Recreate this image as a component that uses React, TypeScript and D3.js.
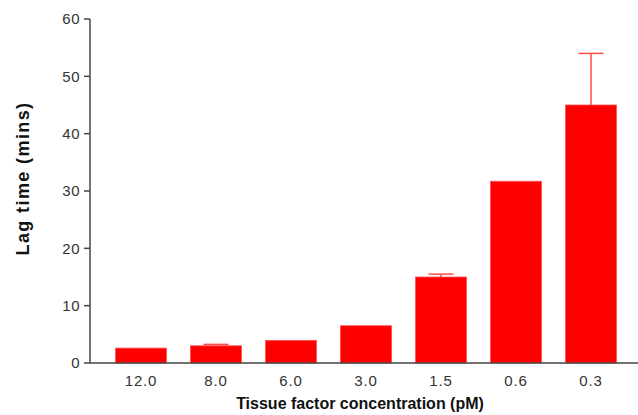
import React from "react";
import * as d3 from "d3";

const categories = ["12.0", "8.0", "6.0", "3.0", "1.5", "0.6", "0.3"];
const lagTimes = [2.6, 3.0, 3.95, 6.5, 15.0, 31.7, 45.0];
const errors = [0, 0.25, 0, 0, 0.5, 0, 9.0];
const yTicks = [0, 10, 20, 30, 40, 50, 60];

const W = 638;
const H = 415;

export default function App() {
  const x = d3.scaleBand<string>().domain(categories).range([103.5, 628.5]).paddingInner(0.32).paddingOuter(0.16);
  const y = d3.scaleLinear().domain([0, 60]).range([363, 19]);
  const font = "Liberation Sans, Arial, sans-serif";
  return (
    <svg width={W} height={H} style={{ position: "absolute", left: 0, top: 0 }} fontFamily={font}>
      <rect width={W} height={H} fill="#fff" />
      {categories.map((c, i) => {
        const x0 = x(c)!;
        const bw = x.bandwidth();
        const cx = x0 + bw / 2;
        return (
          <g key={c}>
            <rect x={x0} y={y(lagTimes[i])} width={bw} height={y(0) - y(lagTimes[i])} fill="#ff0000" stroke="#ff5050" strokeWidth={0.8} />
            {errors[i] > 0 && (
              <g stroke="#ff4a4a" strokeWidth={1.5}>
                <line x1={cx} x2={cx} y1={y(lagTimes[i])} y2={y(lagTimes[i] + errors[i])} />
                <line x1={cx - 12.5} x2={cx + 12.5} y1={y(lagTimes[i] + errors[i])} y2={y(lagTimes[i] + errors[i])} />
              </g>
            )}
            <text x={cx} y={386} textAnchor="middle" fontSize={15} letterSpacing={0.8} fill="#333">{c}</text>
          </g>
        );
      })}
      <line x1={90} x2={638} y1={y(0)} y2={y(0)} stroke="#444" strokeWidth={1.5} />
      <line x1={90} x2={90} y1={y(60)} y2={y(0)} stroke="#444" strokeWidth={1.5} />
      {yTicks.map((t) => (
        <g key={t}>
          <line x1={84} x2={90} y1={y(t)} y2={y(t)} stroke="#444" strokeWidth={1.5} />
          <text x={80} y={y(t) + 5.3} textAnchor="end" fontSize={15} letterSpacing={0.5} fill="#333">{t}</text>
        </g>
      ))}
      <text transform={`translate(28.5,178.5) rotate(-90)`} textAnchor="middle" fontSize={18} letterSpacing={1.4} fontWeight="bold" fill="#111">Lag time (mins)</text>
      <text x={360} y={409} textAnchor="middle" fontSize={16} fontWeight="bold" fill="#111">Tissue factor concentration (pM)</text>
    </svg>
  );
}
